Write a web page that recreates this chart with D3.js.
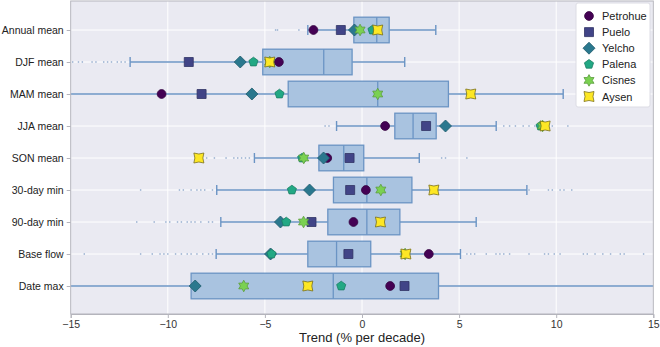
<!DOCTYPE html>
<html><head><meta charset="utf-8">
<script src="https://cdn.jsdelivr.net/npm/d3@7"></script>
<style>body{margin:0;background:#fff}svg{display:block;font-family:"Liberation Sans",Arial,sans-serif}</style>
</head><body><svg id="c" width="660" height="347"></svg>
<script>
const categories = ["Annual mean","DJF mean","MAM mean","JJA mean","SON mean","30-day min","90-day min","Base flow","Date max"];
const q1     = [-0.42, -5.11, -3.80, 1.69, -2.22, -1.47, -1.76, -2.79, -8.80];
const median = [ 0.76, -1.97,  0.81, 2.63, -0.94,  0.25,  0.25, -1.31, -1.48];
const q3     = [ 1.40, -0.51,  4.45, 3.82,  0.09,  2.57,  1.95,  0.45,  3.94];
const whiskerLow  = [-2.79, -11.94, -16, -1.31, -5.54, -7.48, -7.27, -7.51, -16];
const whiskerHigh = [ 3.80,   2.20, 10.36, 6.91, 2.95, 8.49, 5.88, 5.07, 16];
const outliers = [
  [-4.45, -4.35, -3.25],
  [-14.9, -14.6, -14.4, -13.9, -13.7, -13.3, -13.1, -12.9, -12.6, -12.4, -12.2],
  [],
  [-1.9, -1.7, 7.3, 7.6, 7.9, 8.3, 8.6, 8.9, 9.0, 9.6, 9.8, 10.6],
  [-8.0, -7.6, -7.0, -6.6, -6.4, -6.2, -6.0, -5.8, 4.1, 4.3, 5.4],
  [-11.4, -9.4, -9.2, -8.8, -8.5, -8.3, -8.1, -7.7, 8.6, 9.6, 9.8, 10.2, 10.4, 10.8],
  [-11.6, -10.7, -10.1, -9.9, -9.5, -9.3, -9.0, -8.8, -8.6, -8.3, -7.9, -7.7],
  [-14.3, -11.4, -10.8, -10.4, -10.2, -10.0, -9.6, -9.3, -9.0, -8.8, -8.5, -8.2, -7.9, -7.7,
    5.4, 5.6, 5.8, 6.4, 6.9, 7.1, 7.3, 7.6, 8.6, 9.4, 9.6, 9.9, 10.2, 11.4, 11.6, 12.0, 12.4, 12.8, 13.3, 13.5, 14.5],
  []
];
const rivers = ["Petrohue","Puelo","Yelcho","Palena","Cisnes","Aysen"];
const petrohue = [-2.50, -4.28, -10.32, 1.19, -1.79,  0.20, -0.44,  3.44,  1.45];
const puelo    = [-1.09, -8.92,  -8.26, 3.30, -0.64, -0.61, -2.60, -0.70,  2.19];
const yelcho   = [-0.39, -6.27,  -5.67, 4.30, -1.98, -2.70, -4.20, -4.71, -8.59];
const palena   = [ 0.54, -5.59,  -4.25, 9.20, -3.08, -3.61, -3.90, -4.66, -1.07];
const cisnes   = [-0.10, -4.75,   0.81, 9.30, -3.00,  0.97, -3.01,  2.22, -6.09];
const aysen    = [ 0.81, -4.75,   5.60, 9.43, -8.40,  3.70,  0.95,  2.26, -2.79];
const riverValues = [petrohue, puelo, yelcho, palena, cisnes, aysen];
const riverColors = ["#440154","#414487","#2a788e","#22a884","#7ad151","#fde725"];
const xTicks = [-15, -10, -5, 0, 5, 10, 15];

const svg = d3.select("#c");
const L = 70.7, R = 653.3, T = 1, B = 314;
const x = d3.scaleLinear().domain([-15, 15]).range([L, R]);
const y = d3.scalePoint().domain(categories).range([30, 286]);
const boxH = 25.6;

svg.append("rect").attr("x", L).attr("y", T).attr("width", R - L).attr("height", B - T).attr("fill", "#eaeaf2");
svg.append("defs").append("clipPath").attr("id", "clip").append("rect")
  .attr("x", L).attr("y", T).attr("width", R - L).attr("height", B - T);

// grid
svg.append("g").selectAll("line").data(xTicks).join("line")
  .attr("x1", d => x(d)).attr("x2", d => x(d)).attr("y1", T).attr("y2", B)
  .attr("stroke", "#fff").attr("stroke-width", 1);
svg.append("g").selectAll("line").data(categories).join("line")
  .attr("x1", L).attr("x2", R).attr("y1", d => y(d)).attr("y2", d => y(d))
  .attr("stroke", "#fff").attr("stroke-width", 1);

const plot = svg.append("g").attr("clip-path", "url(#clip)");
const boxFill = "#a9c3e0", boxEdge = "#6b94c4";

categories.forEach((c, i) => {
  const cy = y(c);
  // outliers
  plot.append("g").selectAll("rect").data(outliers[i]).join("rect")
    .attr("x", d => x(d) - 0.7).attr("y", cy - 1).attr("width", 1.4).attr("height", 2)
    .attr("fill", "#8fa8cc").attr("opacity", 0.7);
  // whiskers
  plot.append("line").attr("x1", x(whiskerLow[i])).attr("x2", x(q1[i])).attr("y1", cy).attr("y2", cy)
    .attr("stroke", boxEdge).attr("stroke-width", 1.4);
  plot.append("line").attr("x1", x(q3[i])).attr("x2", x(whiskerHigh[i])).attr("y1", cy).attr("y2", cy)
    .attr("stroke", boxEdge).attr("stroke-width", 1.4);
  [whiskerLow[i], whiskerHigh[i]].forEach(w => {
    plot.append("line").attr("x1", x(w)).attr("x2", x(w)).attr("y1", cy - 5).attr("y2", cy + 5)
      .attr("stroke", boxEdge).attr("stroke-width", 1.4);
  });
  // box
  plot.append("rect").attr("x", x(q1[i])).attr("y", cy - boxH / 2)
    .attr("width", x(q3[i]) - x(q1[i])).attr("height", boxH)
    .attr("fill", boxFill).attr("stroke", boxEdge).attr("stroke-width", 1.3);
  plot.append("line").attr("x1", x(median[i])).attr("x2", x(median[i]))
    .attr("y1", cy - boxH / 2).attr("y2", cy + boxH / 2)
    .attr("stroke", boxEdge).attr("stroke-width", 1.3);
});

// marker shapes
function hexagram(ro, ri) {
  const pts = [];
  for (let k = 0; k < 12; k++) {
    const a = -Math.PI / 2 + k * Math.PI / 6;
    const r = k % 2 ? ri : ro;
    pts.push([r * Math.cos(a), r * Math.sin(a)]);
  }
  return "M" + pts.map(p => p.join(",")).join("L") + "Z";
}
function pentagon(r) {
  const pts = [];
  for (let k = 0; k < 5; k++) {
    const a = -Math.PI / 2 + k * 2 * Math.PI / 5;
    pts.push([r * Math.cos(a), r * Math.sin(a)]);
  }
  return "M" + pts.map(p => p.join(",")).join("L") + "Z";
}
function concaveSquare(s) {
  const k = s * 0.6;
  return `M${-s},${-s}Q0,${-k} ${s},${-s}Q${k},0 ${s},${s}Q0,${k} ${-s},${s}Q${-k},0 ${-s},${-s}Z`;
}
const shapes = [
  "M4.4,0A4.4,4.4 0 1,1 -4.4,0A4.4,4.4 0 1,1 4.4,0Z",
  "M-4.5,-4.5L4.5,-4.5L4.5,4.5L-4.5,4.5Z",
  "M0,-6L6,0L0,6L-6,0Z",
  pentagon(4.8),
  hexagram(5.8, 3.3),
  concaveSquare(5.0)
];

rivers.forEach((r, j) => {
  const col = riverColors[j];
  plot.append("g").selectAll("path").data(riverValues[j]).join("path")
    .attr("d", shapes[j])
    .attr("transform", (d, i) => `translate(${x(d)},${y(categories[i])})`)
    .attr("fill", col)
    .attr("stroke", d3.color(col).darker(j === 5 ? 2 : 0.8))
    .attr("stroke-width", 0.8);
});

// frame
svg.append("rect").attr("x", L).attr("y", T).attr("width", R - L).attr("height", B - T)
  .attr("fill", "none").attr("stroke", "#b4b4bc").attr("stroke-width", 1);

// axes
const xAxis = svg.append("g").attr("transform", `translate(0,${B})`)
  .call(d3.axisBottom(x).tickValues(xTicks).tickSize(4).tickPadding(3).tickFormat(d => d < 0 ? "\u2212" + Math.abs(d) : d));
xAxis.select(".domain").attr("stroke", "#b4b4bc");
xAxis.selectAll(".tick line").attr("stroke", "#b4b4bc");
xAxis.selectAll("text").attr("font-size", 10.5).attr("fill", "#333")
  .attr("font-family", "Liberation Sans, Arial, sans-serif");

const yAxis = svg.append("g").attr("transform", `translate(${L},0)`)
  .call(d3.axisLeft(y).tickSize(4).tickPadding(3));
yAxis.select(".domain").remove();
yAxis.selectAll(".tick line").attr("stroke", "#b4b4bc");
yAxis.selectAll("text").attr("font-size", 10.5).attr("fill", "#222")
  .attr("font-family", "Liberation Sans, Arial, sans-serif");

svg.append("text").attr("x", (L + R) / 2).attr("y", 342).attr("text-anchor", "middle")
  .attr("font-size", 13).attr("fill", "#222").text("Trend (% per decade)");

// legend
const lg = svg.append("g");
lg.append("rect").attr("x", 576).attr("y", 3).attr("width", 74).attr("height", 104)
  .attr("fill", "#fff").attr("stroke", "#dcdce4").attr("rx", 2);
rivers.forEach((r, j) => {
  const ly = 16 + j * 16.1;
  lg.append("path").attr("d", shapes[j]).attr("transform", `translate(589,${ly})`)
    .attr("fill", riverColors[j]).attr("stroke", d3.color(riverColors[j]).darker(j === 5 ? 2 : 0.8)).attr("stroke-width", 0.8);
  lg.append("text").attr("x", 602).attr("y", ly + 4).attr("font-size", 11).attr("fill", "#222").text(r);
});
</script></body></html>
